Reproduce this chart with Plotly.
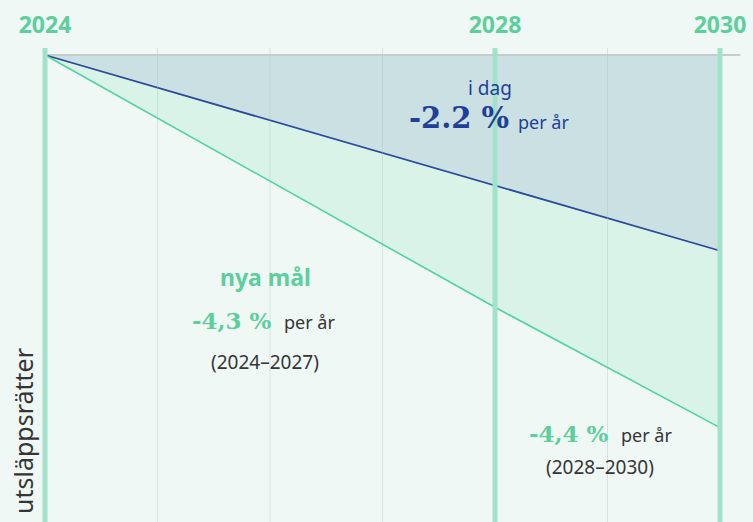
import plotly.graph_objects as go

# ---- data ----
YEARS_ALL = [2024, 2025, 2026, 2027, 2028, 2029, 2030]
TICK_YEARS = [2024, 2028, 2030]
TICK_LABELS = ["2024", "2028", "2030"]
BASE_YEARS = [2024, 2030]
BASE_VALUES = [100.0, 100.0]
TODAY_YEARS = [2024, 2030]
TODAY_VALUES = [100.0, 86.5]          # -2.2 % per år
NEW_YEARS = [2024, 2028, 2030]
NEW_VALUES = [100.0, 82.6, 74.3]      # -4,3 % (2024–2027), -4,4 % (2028–2030)

W, H = 753, 522
ML, MR, MT, MB = 0, 0, 48, 0

BG = "#eff8f5"
BLUE_FILL = "rgba(160,196,204,0.45)"
GREEN_FILL = "rgba(200,238,220,0.55)"
BLUE_LINE = "#2b4a9b"
GREEN_LINE = "#4fd3a2"
VLINE = "#a3e2ca"
GREEN_TXT = "#5ccf9c"
DARK_BLUE = "#213f99"
GRAY_TXT = "#353535"

def px(x):
    return (x - ML) / (W - ML - MR)

def py(y):
    return (H - MB - y) / (H - MT - MB)

fig = go.Figure()
fig.add_trace(go.Scatter(x=BASE_YEARS, y=BASE_VALUES, mode="lines",
                         line=dict(color="#c7cdcb", width=2), hoverinfo="skip"))
fig.add_trace(go.Scatter(x=TODAY_YEARS, y=TODAY_VALUES, mode="lines",
                         line=dict(color=BLUE_LINE, width=1.8),
                         fill="tonexty", fillcolor=BLUE_FILL, hoverinfo="skip"))
fig.add_trace(go.Scatter(x=NEW_YEARS, y=NEW_VALUES, mode="lines",
                         line=dict(color=GREEN_LINE, width=1.6),
                         fill="tonexty", fillcolor=GREEN_FILL, hoverinfo="skip"))

shapes = []
for yr in YEARS_ALL:
    if yr not in TICK_YEARS:
        shapes.append(dict(type="line", xref="x", yref="paper", x0=yr, x1=yr, y0=0, y1=1,
                           line=dict(color="rgba(170,190,185,0.35)", width=1), layer="above"))
shapes.append(dict(type="line", xref="x", yref="y", x0=BASE_YEARS[-1], x1=BASE_YEARS[-1] + 0.18,
                   y0=BASE_VALUES[-1], y1=BASE_VALUES[-1], line=dict(color="#c7cdcb", width=2)))
for yr in TICK_YEARS:
    shapes.append(dict(type="line", xref="x", yref="paper", x0=yr, x1=yr, y0=0, y1=1,
                       line=dict(color=VLINE, width=5), layer="above"))

ann = []
def A(text, x, y, size, color, family="Noto Sans", xanchor="center", bold=False):
    t = f"<b>{text}</b>" if bold else text
    ann.append(dict(text=t, x=px(x), y=py(y), xref="paper", yref="paper", showarrow=False,
                    xanchor=xanchor, yanchor="middle",
                    font=dict(size=size, color=color, family=family)))

A("i dag", 490, 88, 19, DARK_BLUE)
A("-2.2 %", 511, 118, 29, DARK_BLUE, family="DejaVu Serif", xanchor="right", bold=True)
A("per år", 516, 122, 18, DARK_BLUE, xanchor="left")
A("nya mål", 265, 277, 23, GREEN_TXT, bold=True)
A("-4,3 %", 274, 320, 23, GREEN_TXT, family="DejaVu Serif", xanchor="right", bold=True)
A("per år", 282, 322, 18, GRAY_TXT, xanchor="left")
A("(2024–2027)", 265, 362, 19, GRAY_TXT)
A("-4,4 %", 611, 433, 23, GREEN_TXT, family="DejaVu Serif", xanchor="right", bold=True)
A("per år", 619, 435, 18, GRAY_TXT, xanchor="left")
A("(2028–2030)", 600, 467, 19, GRAY_TXT)
ann.append(dict(text="utsläppsrätter", x=px(23), y=py(516), xref="paper", yref="paper",
                showarrow=False, textangle=-90, xanchor="center", yanchor="bottom",
                font=dict(size=25, color=GRAY_TXT, family="Noto Sans")))

px_per_year = 112.5
x0 = 2024 - 45 / px_per_year
x1 = 2030 + (W - 720) / px_per_year
k = 14.5
y_top = 100 + (55 - MT) / k
y_bot = 100 - (H - 55) / k

fig.update_layout(
    width=W, height=H, margin=dict(l=ML, r=MR, t=MT, b=MB),
    paper_bgcolor=BG, plot_bgcolor=BG, showlegend=False,
    shapes=shapes, annotations=ann,
    xaxis=dict(range=[x0, x1], side="top", tickvals=TICK_YEARS, ticktext=[f"<b>{t}</b>" for t in TICK_LABELS],
               showgrid=False, zeroline=False, showline=False, ticks="",
               tickfont=dict(size=23, color=GREEN_TXT, family="Noto Sans"),
               ticklabelstandoff=9),
    yaxis=dict(range=[y_bot, y_top], visible=False, showgrid=False, zeroline=False),
)

fig.write_html("out.html", config={"displayModeBar": False},
               post_script="document.body.style.margin='0';document.body.style.overflow='hidden';")
